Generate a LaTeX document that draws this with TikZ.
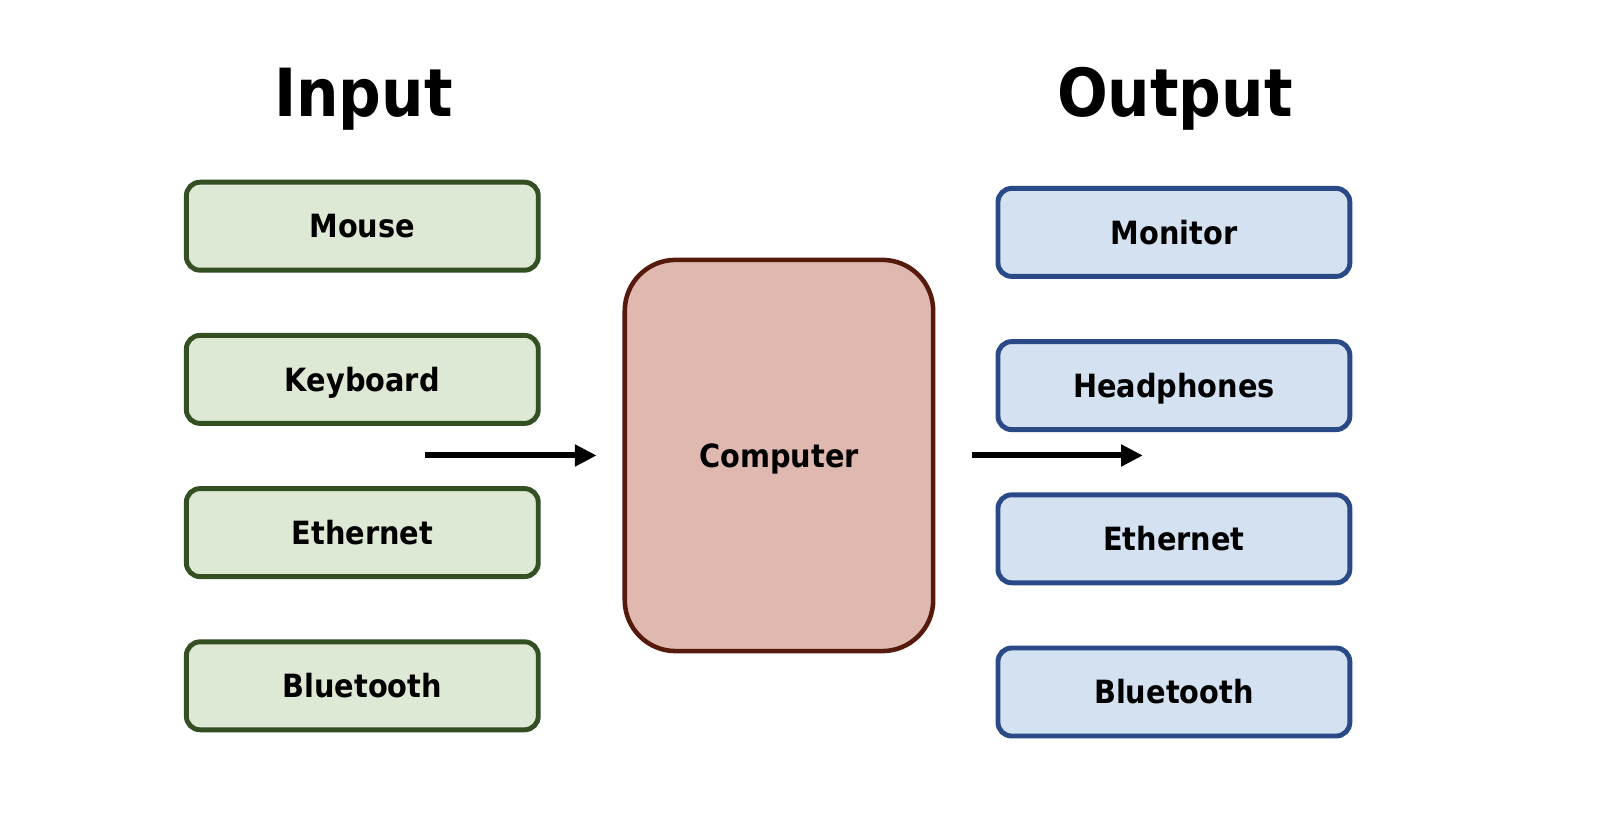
\documentclass[tikz,border=0pt]{standalone}
\usepackage{fontspec}
\setmainfont{DejaVu Sans Condensed}
\usepackage{xcolor}
\usetikzlibrary{arrows.meta}

\definecolor{inFill}{HTML}{DDE8D5}
\definecolor{inLine}{HTML}{344F21}
\definecolor{outFill}{HTML}{D4E1F1}
\definecolor{outLine}{HTML}{2A4A87}
\definecolor{cpuFill}{HTML}{DFB9B0}
\definecolor{cpuLine}{HTML}{561A0C}

\begin{document}
\begin{tikzpicture}[x=0.02cm,y=-0.02cm,
    devbox/.style={draw,rounded corners=7.5pt,line width=2.7pt,
      minimum width=6.8cm,minimum height=1.7cm,
      font=\fontsize{17.6}{20}\selectfont\bfseries,
      text height=12.8pt,text depth=0pt},
    inbox/.style={devbox,fill=inFill,draw=inLine},
    outbox/.style={devbox,fill=outFill,draw=outLine},
    title/.style={anchor=base,font=\fontsize{36.5}{40}\selectfont\bfseries},
    flow/.style={line width=3.3pt,-{Triangle[length=12pt,width=11.5pt]}}]
  \useasboundingbox (0,0) rectangle (1563,794);

  % Titles
  \node[title] (intitle) at (351,113) {Input};
  \node[title] (outtitle) at (1135,113) {Output};

  % Input devices
  \foreach \y/\name/\txt in {218.5/mouse/Mouse, 366.5/keyboard/Keyboard,
      514.5/ethin/Ethernet, 662.5/btin/Bluetooth} {
    \node[inbox] (\name) at (350,\y) {\txt};
  }

  % Output devices
  \foreach \y/\name/\txt in {224.5/monitor/Monitor, 372.5/phones/Headphones,
      520.5/ethout/Ethernet, 668.5/btout/Bluetooth} {
    \node[outbox] (\name) at (1134,\y) {\txt};
  }

  % Computer
  \node[draw=cpuLine,fill=cpuFill,line width=2.5pt,rounded corners=28pt,
    minimum width=5.96cm,minimum height=7.56cm,
    font=\fontsize{17.6}{20}\selectfont\bfseries,
    text height=12.8pt,text depth=0pt] (computer) at (752.5,440) {Computer};

  % Arrows
  \coordinate (instart) at (411,440);
  \coordinate (outend) at (1104,440);
  \draw[flow,shorten >=0.5cm] (instart) -- (computer.west |- instart);
  \draw[flow,shorten <=0.7cm] (computer.east |- outend) -- (outend);
\end{tikzpicture}
\end{document}
